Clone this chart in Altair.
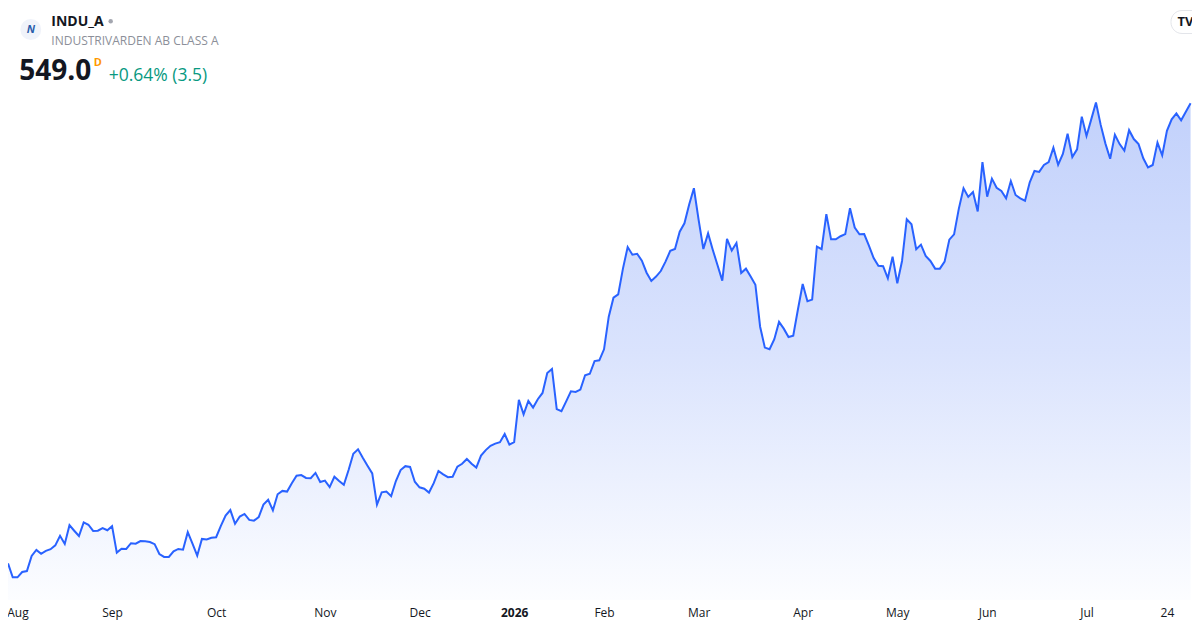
import json
import altair as alt
import pandas as pd

symbol = "INDU_A"
company = "INDUSTRIVARDEN AB CLASS A"
last_price = "549.0"
interval = "D"
change_text = "+0.64% (3.5)"
logo_glyph = "N"
tv_glyph = "TV"

prices = [
    357.3, 351.5, 351.5, 353.7, 354.1, 360.4, 362.9, 361.3, 362.5, 363.2,
    364.8, 368.8, 365.4, 373.2, 370.9, 368.7, 374.4, 373.4, 370.8, 370.9,
    372.0, 371.1, 372.8, 361.8, 363.4, 363.3, 365.7, 365.5, 366.6, 366.5,
    366.2, 365.3, 361.2, 360.0, 360.0, 362.3, 363.3, 363.0, 370.3, 365.5,
    360.5, 367.5, 367.3, 368.0, 368.2, 372.9, 377.2, 379.5, 373.8, 376.8,
    377.9, 375.4, 375.1, 376.6, 381.8, 383.8, 379.4, 386.1, 387.5, 387.2,
    390.7, 393.8, 394.1, 392.9, 392.8, 395.0, 391.2, 391.8, 389.1, 393.4,
    391.6, 390.0, 396.2, 403.0, 404.8, 401.3, 398.0, 394.8, 381.8, 386.9,
    387.2, 385.3, 391.6, 396.2, 397.8, 397.5, 391.3, 389.0, 388.4, 386.8,
    390.7, 395.8, 394.4, 393.2, 393.4, 397.6, 398.8, 400.8, 398.8, 397.2,
    402.2, 404.5, 406.3, 407.2, 407.8, 411.2, 406.8, 407.8, 425.4, 419.4,
    425.0, 422.2, 425.7, 428.3, 436.6, 438.3, 421.6, 420.7, 424.8, 429.0,
    428.7, 429.7, 435.7, 436.3, 441.6, 441.9, 446.5, 460.1, 468.0, 469.4,
    480.1, 489.1, 485.9, 486.3, 483.4, 478.4, 475.0, 476.8, 479.1, 483.0,
    487.5, 488.3, 495.5, 499.0, 506.8, 513.6, 500.4, 488.3, 494.8, 487.9,
    481.5, 475.1, 492.5, 487.6, 490.8, 478.3, 480.1, 476.8, 473.4, 455.9,
    447.2, 446.5, 450.7, 457.9, 455.1, 451.6, 452.2, 463.2, 473.7, 466.5,
    467.2, 489.3, 488.2, 502.8, 492.3, 492.3, 493.6, 494.5, 505.3, 497.2,
    494.4, 494.5, 489.7, 484.5, 481.3, 481.1, 476.1, 485.1, 474.0, 483.3,
    500.7, 498.6, 488.2, 490.1, 485.4, 483.3, 480.1, 480.1, 483.0, 492.2,
    494.4, 505.0, 513.6, 510.0, 512.0, 503.9, 524.5, 510.1, 517.6, 513.8,
    512.5, 509.4, 516.6, 510.8, 509.4, 508.4, 516.1, 520.8, 520.4, 523.3,
    524.5, 530.5, 523.4, 527.9, 536.3, 526.6, 529.8, 543.4, 535.4, 542.3,
    549.3, 540.0, 532.2, 525.9, 535.9, 532.0, 529.3, 537.8, 534.1, 532.0,
    526.1, 522.3, 523.3, 532.6, 527.3, 537.5, 542.3, 544.8, 541.9, 545.5,
    549.0,
]

tick_index = [2, 22, 44, 67, 87, 107, 126, 146, 168, 188, 207, 228, 245]
tick_labels = ["Aug", "Sep", "Oct", "Nov", "Dec", "2026", "Feb", "Mar",
               "Apr", "May", "Jun", "Jul", "24"]
bold_tick = 107
y_domain = [342.04, 588.7]

df = pd.DataFrame({"i": list(range(len(prices))), "close": prices})

FONT = "Open Sans"
label_expr = "{}[indexof({}, datum.value)]".format(
    json.dumps(tick_labels), json.dumps(tick_index))

x_enc = alt.X(
    "i:Q",
    scale=alt.Scale(domain=[0, 250.3], nice=False, zero=False),
    axis=alt.Axis(
        values=tick_index,
        labelExpr=label_expr,
        title=None,
        grid=False,
        ticks=False,
        tickSize=0,
        domain=False,
        labelPadding=16,
        labelBaseline="alphabetic",
        labelFontSize=12,
        labelFont=FONT,
        labelColor="#131722",
        labelAngle=0,
        labelOverlap=False,
        labelFlush=False,
        zindex=1,
        labelFontWeight={"condition": {"test": f"datum.value == {bold_tick}", "value": "bold"},
                         "value": "normal"},
    ),
)
y_enc = alt.Y("close:Q", scale=alt.Scale(domain=y_domain, nice=False, zero=False), axis=None)

base = alt.Chart(df)

area = base.mark_area(
    opacity=1,
    color=alt.Gradient(
        gradient="linear",
        stops=[
            alt.GradientStop(color="#fcfdff", offset=0),
            alt.GradientStop(color="#dae3fd", offset=0.5),
            alt.GradientStop(color="#c2d1fb", offset=1),
        ],
        x1=1, x2=1, y1=1, y2=0,
    )
).encode(x=x_enc, y=y_enc, y2=alt.datum(y_domain[0]))

line = base.mark_line(color="#2962ff", strokeWidth=2).encode(x=x_enc, y=y_enc)


def text_layer(value, x, y, size, color, weight="normal", align="left",
               baseline="alphabetic", style="normal"):
    return alt.Chart(pd.DataFrame({"t": [value]})).mark_text(
        align=align, baseline=baseline, font=FONT, fontSize=size,
        fontWeight=weight, color=color, fontStyle=style,
    ).encode(x=alt.value(x), y=alt.value(y), text="t:N")


one = pd.DataFrame({"k": [0]})

logo_circle = alt.Chart(one).mark_circle(color="#f0f3fa", opacity=1, size=437).encode(
    x=alt.value(22.8), y=alt.value(21.5))
logo_text = text_layer(logo_glyph, 22.8, 22, 11, "#2a5caa", weight="bold",
                       align="center", baseline="middle", style="italic")
sym_text = text_layer(symbol, 43.3, 18, 14, "#131722", weight="bold")
dot = alt.Chart(one).mark_circle(color="#a3a6af", opacity=1, size=20).encode(
    x=alt.value(102.7), y=alt.value(13.3))
comp_text = text_layer(company, 43.3, 37, 12, "#8c8f99")
price_text = text_layer(last_price, 11.3, 72, 28, "#131722", weight="bold")
int_text = text_layer(interval, 85.7, 58, 11, "#ff9800", weight="bold")
chg_text = text_layer(change_text, 100.7, 72.5, 17.5, "#089981")

tv_box = alt.Chart(one).mark_rect(fill="white", stroke="#e3e5ea", strokeWidth=1,
                                  cornerRadius=11).encode(
    x=alt.value(1163), x2=alt.value(1200), y=alt.value(2.5), y2=alt.value(25.5))
tv_text = text_layer(tv_glyph, 1177.5, 14, 13, "#131722", weight="bold",
                     align="center", baseline="middle")

chart = alt.layer(
    area, line, logo_circle, logo_text, sym_text, dot, comp_text,
    price_text, int_text, chg_text, tv_box, tv_text,
).properties(
    width=1184,
    height=592,
    autosize=alt.AutoSizeParams(type="none"),
    padding={"left": 0, "top": 0, "right": 0, "bottom": 20},
    background="white",
).configure_view(stroke=None)

chart.save("out.html", embed_options={"renderer": "svg", "actions": False})
